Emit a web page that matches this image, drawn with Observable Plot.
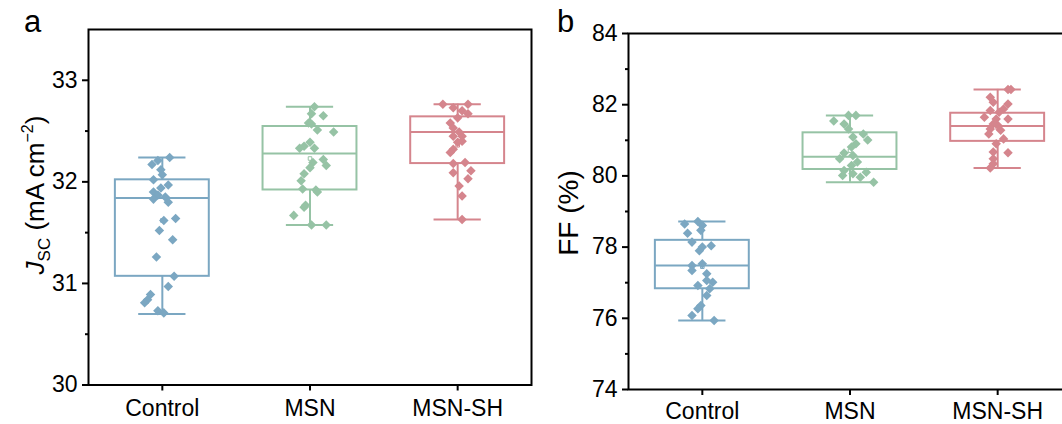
<!DOCTYPE html>
<html>
<head>
<meta charset="utf-8">
<script src="https://cdn.jsdelivr.net/npm/d3@7"></script>
<script src="https://cdn.jsdelivr.net/npm/@observablehq/plot@0.6"></script>
<style>
  html, body { margin: 0; padding: 0; background: #fff; overflow: hidden; }
  #wrap { position: relative; width: 1062px; height: 424px; overflow: hidden; }
  #wrap svg { position: absolute; top: 0; }
</style>
</head>
<body>
<div id="wrap"></div>
<script>
// Device groups and their colours
const groups = ["Control", "MSN", "MSN-SH"];
const groupColors = ["#7BA7C2", "#96C3A5", "#D5858D"];

// ---- Panel a: Jsc (mA cm^-2) ----
// box statistics per group: [lower whisker, Q1, median, Q3, upper whisker]
const jscBoxes = [
  [30.70, 31.07, 31.84, 32.02, 32.24],
  [31.575, 31.92, 32.28, 32.545, 32.74],
  [31.63, 32.18, 32.49, 32.64, 32.765]
];
const jscMeans = [31.62, 32.23, 32.36];
const jscControl = [32.24, 32.21, 32.17, 32.12, 32.07, 32.02, 31.97, 31.94, 31.90, 31.87, 31.83, 31.85, 31.80, 31.62, 31.64, 31.52, 31.43, 31.26, 31.07, 30.97, 30.89, 30.84, 30.81, 30.73, 30.71];
const jscMSN = [32.74, 32.65, 32.67, 32.58, 32.57, 32.51, 32.49, 32.39, 32.33, 32.35, 32.33, 32.22, 32.16, 32.19, 32.14, 32.08, 32.01, 31.93, 31.92, 31.90, 31.75, 31.77, 31.67, 31.575, 31.575];
const jscMSNSH = [32.765, 32.765, 32.73, 32.70, 32.67, 32.63, 32.58, 32.53, 32.49, 32.45, 32.45, 32.39, 32.40, 32.32, 32.29, 32.18, 32.19, 32.09, 32.11, 32.03, 31.96, 31.86, 31.63];
// horizontal scatter of each device within its group (fraction of group spacing)
const jscControlJitter = [0.05, -0.03, -0.07, -0.01, 0, -0.06, 0.04, -0.01, -0.06, -0.03, -0.06, 0.02, 0.04, 0.01, 0.09, -0.02, 0.07, -0.04, 0.08, 0.04, -0.08, -0.10, -0.12, -0.03, 0.01];
const jscMSNJitter = [0.03, 0.09, 0.01, -0.01, 0.01, 0.05, 0.16, 0, -0.07, -0.04, 0.03, 0.09, 0.11, 0.02, 0, -0.04, -0.06, -0.05, 0.04, 0.05, -0.04, -0.03, -0.11, 0.01, 0.11];
const jscMSNSHJitter = [-0.10, 0.07, -0.03, 0.03, 0.07, 0, -0.05, -0.03, 0.01, -0.03, 0.03, 0, 0.03, -0.03, -0.05, -0.03, 0.05, -0.03, 0.09, 0.07, 0.01, 0.03, 0.03];
const jscTicks = [30, 31, 32, 33];
const jscMinorTicks = [30.5, 31.5, 32.5];

// ---- Panel b: FF (%) ----
const ffBoxes = [
  [75.94, 76.83, 77.48, 78.19, 78.72],
  [79.82, 80.18, 80.54, 81.21, 81.70],
  [80.22, 80.97, 81.40, 81.76, 82.43]
];
const ffMeans = [77.45, 80.71, 81.35];
const ffControl = [78.72, 78.65, 78.61, 78.39, 78.47, 78.14, 77.90, 78.04, 78.00, 77.48, 77.53, 77.34, 77.25, 77.01, 77.06, 76.92, 76.83, 76.64, 76.36, 76.27, 76.08, 75.94];
const ffMSN = [81.70, 81.70, 81.54, 81.46, 81.32, 81.18, 81.01, 81.09, 80.90, 80.81, 80.64, 80.48, 80.57, 80.39, 80.29, 80.15, 80.10, 80.01, 80.06, 79.96, 79.82];
const ffMSNSH = [82.43, 82.43, 82.21, 82.07, 82.02, 81.88, 81.79, 81.84, 81.65, 81.60, 81.60, 81.46, 81.42, 81.32, 81.28, 81.18, 81.04, 80.90, 80.67, 80.65, 80.48, 80.34, 80.22];
const ffControlJitter = [-0.03, -0.12, 0, -0.10, -0.01, -0.07, -0.02, 0.06, 0, -0.07, 0, -0.07, 0.03, 0.07, 0.03, -0.03, 0.05, 0.03, -0.01, -0.03, -0.07, 0.08];
const ffMSNJitter = [-0.01, 0.04, -0.11, -0.04, -0.01, 0.09, 0.12, 0.02, 0.04, 0.01, -0.04, -0.07, 0.02, 0.05, 0.01, -0.04, 0.11, -0.05, 0.02, 0.07, 0.16];
const ffMSNSHJitter = [0.07, 0.09, -0.05, -0.03, 0.07, 0.04, 0.01, -0.05, -0.09, -0.01, 0.07, -0.03, 0, -0.05, 0.02, -0.06, 0.04, -0.01, -0.03, 0.07, -0.03, -0.03, -0.05];
const ffTicks = [74, 76, 78, 80, 82, 84];
const ffMinorTicks = [75, 77, 79, 81, 83];

// ---- drawing ----
const FONT = "'Liberation Sans', Arial, Helvetica, sans-serif";
const TICK_FONT = 23;
const BOX_HALF = 0.318;   // half box width, in group units
const CAP_HALF = 0.16;    // half whisker-cap width

// square diamond (equal diagonals)
const diamond = {
  draw(context, size) {
    const h = Math.sqrt(size / 2);
    context.moveTo(0, -h);
    context.lineTo(h, 0);
    context.lineTo(0, h);
    context.lineTo(-h, 0);
    context.closePath();
  }
};

function boxTable(boxes, means) {
  return boxes.map(([lo, q1, median, q3, hi], k) => ({
    i: k + 1, lo, q1, median, q3, hi, mean: means[k], color: groupColors[k]
  }));
}

function pointTable(valueSets, jitterSets) {
  return valueSets.flatMap((vals, k) =>
    vals.map((v, j) => ({ i: k + 1, v, dx: jitterSets[k][j], color: groupColors[k] })));
}

function panel({ boxes, means, values, jitter, yDomain, ticks, minor, width, marginLeft, marginTop, marginBottom, marginRight, labelPadding }) {
  const bx = boxTable(boxes, means);
  const pts = pointTable(values, jitter);
  return Plot.plot({
    width, height: 424, marginLeft, marginTop, marginBottom, marginRight,
    style: { fontFamily: FONT, fontSize: TICK_FONT + "px", color: "black", background: "white", overflow: "visible" },
    x: { type: "linear", domain: [0.5, 3.5], axis: null },
    y: { domain: yDomain, axis: null },
    color: { type: "identity" },
    marks: [
      Plot.ruleX(bx, { x: "i", y1: "q3", y2: "hi", stroke: "color", strokeWidth: 2 }),
      Plot.ruleX(bx, { x: "i", y1: "lo", y2: "q1", stroke: "color", strokeWidth: 2 }),
      Plot.ruleY(bx, { y: "hi", x1: d => d.i - CAP_HALF, x2: d => d.i + CAP_HALF, stroke: "color", strokeWidth: 2 }),
      Plot.ruleY(bx, { y: "lo", x1: d => d.i - CAP_HALF, x2: d => d.i + CAP_HALF, stroke: "color", strokeWidth: 2 }),
      Plot.rect(bx, { x1: d => d.i - BOX_HALF, x2: d => d.i + BOX_HALF, y1: "q1", y2: "q3", fill: "none", stroke: "color", strokeWidth: 2 }),
      Plot.ruleY(bx, { y: "median", x1: d => d.i - BOX_HALF, x2: d => d.i + BOX_HALF, stroke: "color", strokeWidth: 2 }),
      Plot.dot(bx, { x: "i", y: "mean", symbol: "square", r: 2, fill: "white", stroke: "color", strokeWidth: 1 }),
      Plot.dot(pts, { x: d => d.i + d.dx, y: "v", symbol: diamond, r: 3.8, fill: "color", stroke: "none" }),
      Plot.frame({ stroke: "black", strokeWidth: 2 }),
      Plot.axisY(ticks, { tickSize: 6, tickPadding: 5, tickFormat: d => String(d), strokeWidth: 2, stroke: "black", fill: "black", label: null, fontSize: TICK_FONT }),
      Plot.axisY(minor, { tickSize: 3, tickFormat: () => "", strokeWidth: 2, stroke: "black", label: null }),
      Plot.axisX([1, 2, 3], { tickSize: 6, tickPadding: labelPadding, tickFormat: d => groups[d - 1], strokeWidth: 2, stroke: "black", fill: "black", label: null, fontSize: TICK_FONT })
    ]
  });
}

const wrap = document.getElementById("wrap");

const svgA = panel({
  boxes: jscBoxes, means: jscMeans,
  values: [jscControl, jscMSN, jscMSNSH],
  jitter: [jscControlJitter, jscMSNJitter, jscMSNSHJitter],
  yDomain: [30, 33.5], ticks: jscTicks, minor: jscMinorTicks,
  width: 545, marginLeft: 88, marginTop: 29, marginBottom: 39.5, marginRight: 14, labelPadding: 9
});
svgA.style.left = "0px";
wrap.appendChild(svgA);

const svgB = panel({
  boxes: ffBoxes, means: ffMeans,
  values: [ffControl, ffMSN, ffMSNSH],
  jitter: [ffControlJitter, ffMSNJitter, ffMSNSHJitter],
  yDomain: [74, 84], ticks: ffTicks, minor: ffMinorTicks,
  width: 540, marginLeft: 83, marginTop: 33, marginBottom: 35, marginRight: 14, labelPadding: 7
});
svgB.style.left = "545px";
wrap.appendChild(svgB);

// panel letters and y titles
const sa = d3.select(svgA);
sa.append("text").attr("x", 24).attr("y", 32).attr("text-anchor", "start")
  .style("font-size", "31px").style("font-family", FONT).attr("fill", "black").text("a");
const ta = sa.append("text")
  .attr("transform", "translate(44,195) rotate(-90)")
  .attr("text-anchor", "middle").style("font-size", "26px").style("font-family", FONT).attr("fill", "black");
ta.append("tspan").attr("font-style", "italic").text("J");
ta.append("tspan").style("font-size", "17px").attr("dy", 6).text("SC");
ta.append("tspan").attr("dy", -6).text(" (mA cm");
ta.append("tspan").style("font-size", "16px").attr("dy", -11).text("\u22122");
ta.append("tspan").attr("dy", 11).text(")");

const sb = d3.select(svgB);
sb.append("text").attr("x", 12).attr("y", 32).attr("text-anchor", "start")
  .style("font-size", "31px").style("font-family", FONT).attr("fill", "black").text("b");
sb.append("text")
  .attr("transform", "translate(33,213) rotate(-90)")
  .attr("text-anchor", "middle").style("font-size", "28px").style("font-family", FONT).attr("fill", "black")
  .text("FF (%)");
</script>
</body>
</html>
